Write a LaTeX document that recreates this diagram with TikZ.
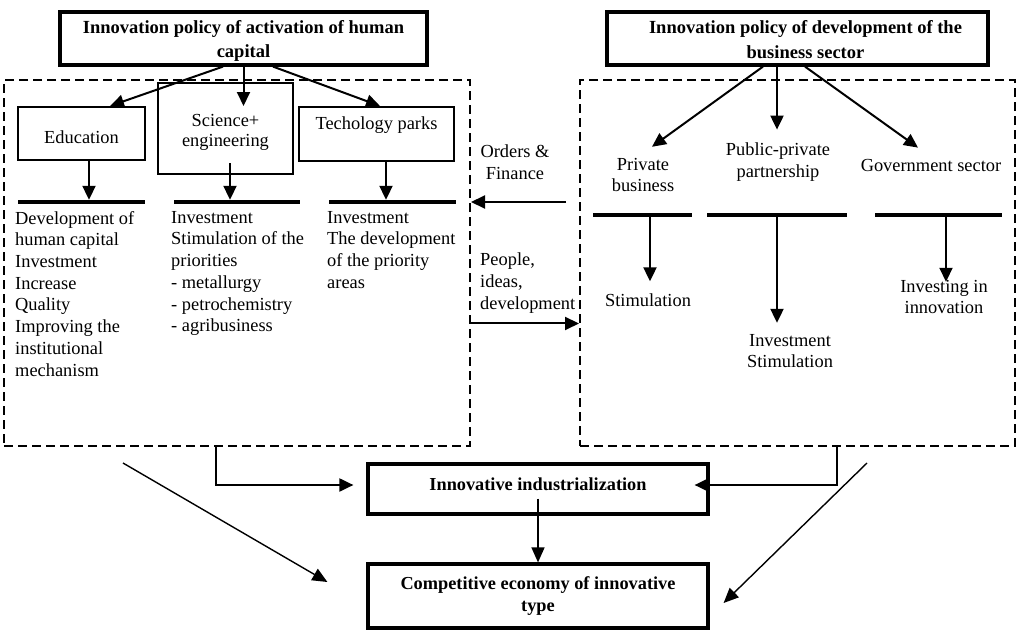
\documentclass[tikz,border=0pt]{standalone}
\usepackage{fontspec}
\setmainfont{Liberation Serif}
\usetikzlibrary{arrows.meta, positioning}

\begin{document}
\begin{tikzpicture}[
    x=1pt, y=-1pt,
    font=\fontsize{18.4}{21.7}\selectfont,
    head/.style={draw, line width=3.2pt, align=center, inner sep=0pt,
                 font=\bfseries\fontsize{18.5}{24}\selectfont},
    unit/.style={draw, line width=2pt, align=center, inner sep=0pt},
    zone/.style={draw, line width=2pt, dash pattern=on 9pt off 5pt, inner sep=0pt},
    bar/.style={fill=black, inner sep=0pt, minimum height=4pt},
    txt/.style={align=left, anchor=north west, inner sep=0pt},
    lbl/.style={align=center, inner sep=0pt},
    ar/.style={-{Triangle[length=14pt, width=13pt]}, line width=2pt},
    thin/.style={-{Triangle[length=15pt, width=13pt]}, line width=1.4pt}
  ]
    \useasboundingbox (0,0) rectangle (1036,632);

    % the two policies and their zones
    \node[head, minimum width=367pt, minimum height=53pt,
          label={[lbl, font=\bfseries\fontsize{18.5}{24}\selectfont, yshift=-2pt]center:Innovation policy of activation of human\\capital}]
      (hc) at (243.5,38.5) {};
    \node[head, minimum width=381pt, minimum height=53pt,
          label={[lbl, font=\bfseries\fontsize{18.5}{25}\selectfont, xshift=8pt, yshift=-1.5pt]center:Innovation policy of development of the\\business sector}]
      (bs) at (797.5,38.5) {};
    \node[zone, minimum width=466pt, minimum height=366pt] (lz) at (237,263) {};
    \node[zone, minimum width=435pt, minimum height=366pt] (rz) at (797.5,263) {};

    % human capital side
    \node[unit, minimum width=127pt, minimum height=53pt,
          label={[lbl, yshift=-4pt]center:Education}] (edu) at (81.5,133.5) {};
    \node[unit, minimum width=135pt, minimum height=91pt,
          label={[lbl, yshift=-4pt]center:Science+\\[-2pt]engineering}] (sci) at (225.5,128.5) {};
    \node[unit, minimum width=155pt, minimum height=54pt,
          label={[lbl, yshift=9pt]center:Techology parks}] (tech) at (376.5,134) {};

    \node[bar, minimum width=127pt] (lb1) at (81.5,202) {};
    \node[bar, minimum width=126pt] (lb2) at (237,202) {};
    \node[bar, minimum width=127pt] (lb3) at (392.5,202) {};

    \node[txt] (edut) at (15,211) {Development of\\human capital\\Investment\\Increase\\Quality\\Improving the\\institutional\\mechanism};
    \node[txt] (scit) at (171,211) {Investment\\Stimulation of the\\priorities\\- metallurgy\\- petrochemistry\\- agribusiness};
    \node[txt] (techt) at (327,211) {Investment\\The development\\of the priority\\areas};

    % flows between the zones
    \node[lbl] (ordf) at (515,162) {Orders \&\\Finance};
    \node[txt] (ppl) at (480,253) {People,\\ideas,\\development};

    % business side
    \node[lbl] (prv) at (643,175) {Private\\business};
    \node[lbl] (ppp) at (778,162) {Public-private\\partnership};
    \node[lbl] (gov) at (931,165) {Government sector};

    \node[bar, minimum width=99pt] (rb1) at (642.5,215) {};
    \node[bar, minimum width=140pt] (rb2) at (777,215) {};
    \node[bar, minimum width=127pt] (rb3) at (938.5,215) {};

    \node[lbl] (stim) at (648,300) {Stimulation};
    \node[lbl] (invs) at (790,351) {Investment\\Stimulation};
    \node[lbl] (invi) at (944,297) {Investing in\\innovation};

    % results
    \node[head, minimum width=340pt, minimum height=50pt,
          label={[lbl, font=\bfseries\fontsize{18.3}{22}\selectfont, yshift=5pt]center:Innovative industrialization}]
      (ind) at (538,489) {};
    \node[head, font=\bfseries\fontsize{18.3}{22}\selectfont,
          minimum width=340pt, minimum height=64pt] (cmp) at (538,596) {Competitive economy of innovative\\type};

    % arrows
    \draw[ar] ([xshift=-20.5pt]hc.south) -- ([xshift=28.5pt]edu.north);
    \draw[ar] (hc.south) -- (hc.south |- edu.north);
    \draw[ar] ([xshift=29.5pt]hc.south) -- ([xshift=3.5pt]tech.north);

    \draw[ar] ([xshift=-34.5pt]bs.south) -- ([xshift=9pt, yshift=11pt]prv.north);
    \draw[ar] ([xshift=-20.5pt]bs.south) -- ([xshift=-20.5pt, yshift=13pt]bs.south |- ppp.north);
    \draw[ar] ([xshift=7.5pt]bs.south) -- ([xshift=-13pt, yshift=11pt]gov.north);

    \draw[ar] ([xshift=7.5pt]edu.south) -- ([xshift=7.5pt]edu.south |- lb1.north);
    \draw[ar] ([xshift=4.5pt, yshift=12pt]sci.south) -- ([xshift=4.5pt]sci.south |- lb2.north);
    \draw[ar] ([xshift=9.5pt]tech.south) -- ([xshift=9.5pt]tech.south |- lb3.north);

    \foreach \b/\t/\dx/\dy in {rb1/stim/7.5/12, rb2/invs/0/11, rb3/invi/7.5/-2}
      \draw[ar] ([xshift=\dx pt]\b.south) -- ([xshift=\dx pt, yshift=\dy pt]\b.south |- \t.north);

    \draw[ar] ([xshift=-13pt]rz.west |- lb3) -- (lz.east |- lb3);
    \draw[ar] ([yshift=-10pt]lz.east |- ppl.south) -- ([yshift=-10pt]rz.west |- ppl.south);

    \draw[ar] ([xshift=-21pt]lz.south) |- ([xshift=-13pt, yshift=4pt]ind.west);
    \draw[ar] ([xshift=39.5pt]rz.south) |- ([xshift=-15pt, yshift=4pt]ind.east);
    \draw[thin] ([yshift=17pt]ind.south) -- (cmp.north);

    \coordinate (dl) at (123,463);
    \coordinate (dr) at (867,463);
    \draw[thin] (dl) -- ([xshift=-39pt, yshift=14pt]cmp.west);
    \draw[thin] (dr) -- ([xshift=14pt, yshift=-7pt]cmp.east);
  \end{tikzpicture}
\end{document}
